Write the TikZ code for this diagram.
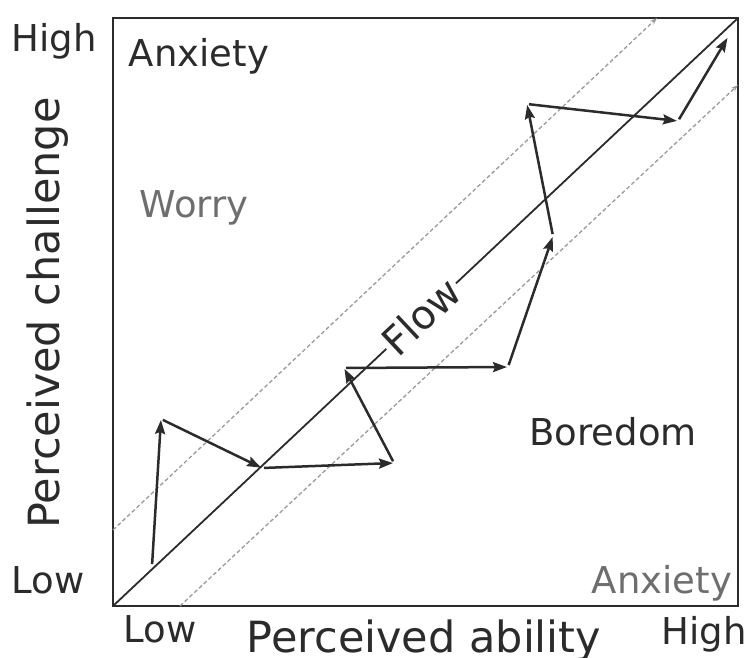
\documentclass[tikz,border=0pt]{standalone}
\usepackage{fontspec}
\setmainfont{DejaVu Sans}
\usetikzlibrary{arrows.meta}
\definecolor{FlowInk}{HTML}{2B2B2B}
\definecolor{FlowGray}{HTML}{6E6E6E}
\definecolor{FlowDash}{HTML}{9A9A9A}

\begin{document}
\begin{tikzpicture}[x=1pt, y=-1pt, >=Stealth,
    lbl/.style={font=\fontsize{37}{44}\selectfont, text=FlowInk, inner sep=0pt, anchor=base},
    axislbl/.style={lbl, font=\fontsize{43}{50}\selectfont},
    zonelbl/.style={lbl, text=FlowGray},
    jump/.style={line width=2.5pt, FlowInk, shorten <=2pt, shorten >=1pt,
        -{Stealth[length=14pt, width=10pt, inset=2pt]}},
    band/.style={FlowDash, line width=1.3pt, dash pattern=on 4pt off 2.5pt,
        -{Stealth[length=7pt, width=5pt]}}]

    \useasboundingbox (0,0) rectangle (750,657);

    % ========== Frame ==========
    \coordinate (ll) at (113,606);
    \coordinate (ur) at (738,18);
    \draw[FlowInk, line width=1.8pt] (ll) rectangle (ur);

    % ========== Flow channel ==========
    \coordinate (upA) at (113,530);
    \coordinate (upB) at (657,18);
    \coordinate (loA) at (180,606);
    \coordinate (loB) at (738,85);
    \draw[band] (upA) -- (upB);
    \draw[band] (loA) -- (loB);
    \draw[FlowInk, line width=1.8pt] (ll) --
        node[pos=0.493, sloped, fill=white, inner sep=2pt, text=FlowInk,
             font=\fontsize{40}{48}\selectfont] (flow) {Flow} (ur);

    % ========== Path of a learner ==========
    \coordinate (t0) at (152,566);
    \coordinate (t1) at (161,419);
    \coordinate (t2) at (262,468);
    \coordinate (t3) at (394,463);
    \coordinate (t4) at (344,368);
    \coordinate (t5) at (508,367);
    \coordinate (t6) at (553,236);
    \coordinate (t7) at (527,104);
    \coordinate (t8) at (678,121);
    \coordinate (t9) at (728,37);
    \foreach \a/\b in {t0/t1, t1/t2, t2/t3, t3/t4, t4/t5, t5/t6, t6/t7, t7/t8, t8/t9}
        \draw[jump] (\a) -- (\b);

    % ========== Zones ==========
    \node[lbl] (anxTop) at (199,66) {Anxiety};
    \node[zonelbl] (worry) at (194,217) {Worry};
    \node[lbl] (boredom) at (613,445) {Boredom};
    \node[zonelbl] (anxLow) at (662,593) {Anxiety};

    % ========== Axes ==========
    \node[lbl] (yHigh) at (54,51) {High};
    \node[lbl] (yLow) at (48,593) {Low};
    \node[lbl] (xLow) at (160,642) {Low};
    \node[lbl] (xHigh) at (704,644) {High};
    \node[axislbl] (xlab) at (424,652) {Perceived ability};
    \node[axislbl, rotate=90] (ylab) at (59,313) {Perceived challenge};

\end{tikzpicture}
\end{document}
